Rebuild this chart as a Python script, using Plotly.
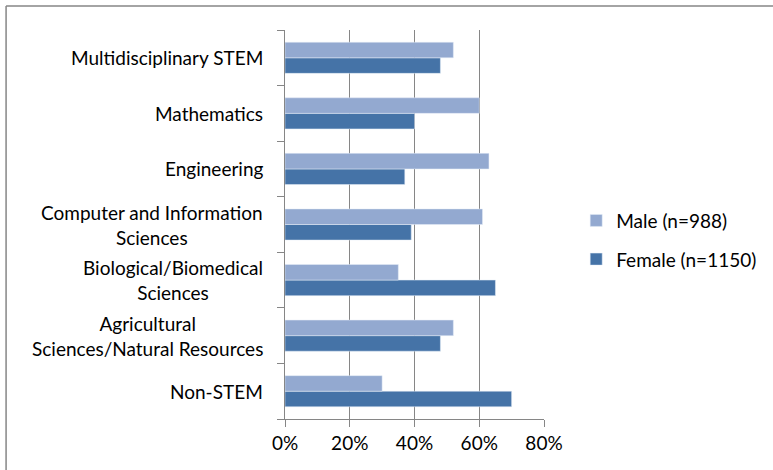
import plotly.graph_objects as go

# data (bottom to top, as drawn)
categories = [
    "Non-STEM",
    "Agricultural<br>Sciences/Natural Resources",
    "Biological/Biomedical<br>Sciences",
    "Computer and Information<br>Sciences",
    "Engineering",
    "Mathematics",
    "Multidisciplinary STEM",
]
female = [0.70, 0.48, 0.65, 0.39, 0.37, 0.40, 0.48]
male = [0.30, 0.52, 0.35, 0.61, 0.63, 0.60, 0.52]
x_ticks = [0, 0.2, 0.4, 0.6, 0.8]
x_ticklabels = ["0%", "20%", "40%", "60%", "80%"]

FONT = "Lato"
GRAY = "#868686"

fig = go.Figure()
fig.add_trace(go.Bar(y=categories, x=female, orientation="h",
                     name="Female (n=1150)", marker_color="#4573A7",
                     legendgroup="f", legendrank=2))
fig.add_trace(go.Bar(y=categories, x=male, orientation="h",
                     name="Male (n=988)", marker_color="#93A9D0",
                     legendgroup="m", legendrank=1))

# category labels: centred block, right-aligned to the axis
for c in categories:
    fig.add_annotation(x=0, y=c, xref="x", yref="y", text=c, showarrow=False,
                       xanchor="right", align="center", xshift=-20,
                       font=dict(family=FONT, size=19, color="#000"))

# chart frame: only top and left edges are visible in the crop
left, top = (5 - 285) / 260, (419 - 6) / 389
frame = [
    dict(type="line", xref="paper", yref="paper", x0=left, x1=2,
         y0=top, y1=top, line=dict(color=GRAY, width=1.5)),
    dict(type="line", xref="paper", yref="paper", x0=left, x1=left,
         y0=-0.5, y1=top, line=dict(color=GRAY, width=1.5)),
]

fig.update_layout(
    width=773, height=470,
    margin=dict(l=285, r=228, t=30, b=51),
    barmode="group", bargap=0.44, bargroupgap=0,
    plot_bgcolor="white", paper_bgcolor="white",
    font=dict(family=FONT, size=19, color="#000"),
    legend=dict(x=1.12, y=0.46, xanchor="left", yanchor="middle",
                traceorder="grouped", tracegroupgap=11,
                font=dict(family=FONT, size=19)),
    xaxis=dict(range=[0, 0.8], tickvals=x_ticks, ticktext=x_ticklabels,
               showgrid=True, gridcolor=GRAY, gridwidth=1,
               showline=True, linecolor=GRAY, ticks="outside",
               ticklen=7, tickcolor=GRAY, zeroline=False),
    yaxis=dict(showticklabels=False, ticks="outside", tickson="boundaries",
               ticklen=7, tickcolor=GRAY, showline=True, linecolor=GRAY,
               showgrid=False),
    shapes=frame,
)

fig.write_html("out.html", config={"displayModeBar": False},
               post_script="document.body.style.margin='0';")
